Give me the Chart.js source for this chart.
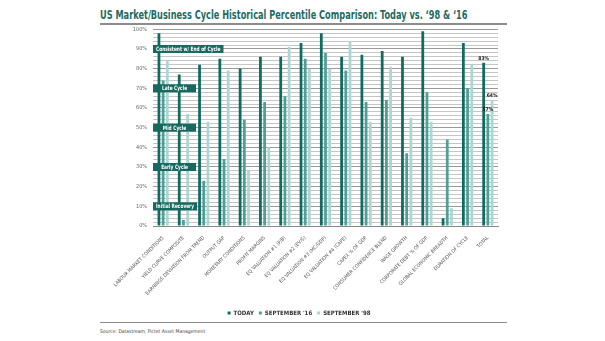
<!DOCTYPE html>
<html>
<head>
<meta charset="utf-8">
<script src="https://cdn.jsdelivr.net/npm/chart.js@4"></script>
<style>
    html, body { margin: 0; padding: 0; background: #fff; }
    body { width: 605px; height: 341px; position: relative; overflow: hidden;
           font-family: "Liberation Sans Narrow", "DejaVu Sans Condensed", "Liberation Sans", sans-serif; }
    #title { position: absolute; left: 100px; top: 8px; font-size: 12px; font-weight: bold; color: #1d6b63;
             white-space: nowrap; transform: scaleX(0.76); transform-origin: left top; }
    .rule { position: absolute; left: 100px; width: 407px; height: 2px; background: #8c8c8c; }
    #source { position: absolute; left: 100px; top: 328px; font-size: 5px; color: #444; white-space: nowrap; }
    #wrap { position: absolute; left: 100px; top: 20px; width: 410px; height: 306px; }
</style>
</head>
<body>
<div id="title">US Market/Business Cycle Historical Percentile Comparison: Today vs. ‘98 &amp; ‘16</div>
<div class="rule" style="top:23px"></div>
<div class="rule" style="top:322px; height:1px"></div>
<div id="source">Source: Datastream, Pictet Asset Management</div>
<div id="wrap"><canvas id="chart"></canvas></div>
<script>
var NARROW = '"Liberation Sans Narrow", "DejaVu Sans Condensed", "Liberation Sans", sans-serif';

var categories = ['LABOUR MARKET CONDITIONS', 'YIELD CURVE COMPOSITE', 'EARNINGS DEVIATION FROM TREND',
    'OUTPUT GAP', 'MONETARY CONDITIONS', 'PROFIT MARGINS', 'EQ VALUATION #1 (P/B)', 'EQ VALUATION #2 (EV/S)',
    'EQ VALUATION #3 (MC/GDP)', 'EQ VALUATION #4 (CAPE)', 'CAPEX % OF GDP', 'CONSUMER CONFIDENCE BLEND',
    'WAGE GROWTH', 'CORPORATE DEBT % OF GDP', 'GLOBAL ECONOMIC BREADTH', 'DURATION OF CYCLE', 'TOTAL'];
var today = [98, 77, 82, 85, 80, 86, 86, 93, 98, 86, 87, 89, 86, 99, 4, 93, 83];
var sep16 = [74, 3, 23, 34, 54, 63, 66, 85, 88, 79, 63, 64, 37, 68, 44, 70, 57];
var sep98 = [84, 57, 53, 79, 28, 40, 91, 80, 80, 94, 53, 81, 55, 53, 9, 82, 64];
var seriesNames = ['TODAY', "SEPTEMBER '16", "SEPTEMBER '98"];
var seriesColors = ['#0e6b60', '#4f9f95', '#acd6d1'];
var phaseLevels = [90, 70, 50, 30, 10];
var phaseLabels = ['Consistent w/ End of Cycle', 'Late Cycle', 'Mid Cycle', 'Early Cycle', 'Initial Recovery'];

// dark boxes marking the cycle phases on the left of the plot
var phasePlugin = {
    id: 'phases',
    afterDatasetsDraw: function (chart) {
        var ctx = chart.ctx;
        var y = chart.scales.y;
        var left = chart.chartArea.left;
        var sx = 0.8;
        ctx.save();
        ctx.font = 'bold 6px ' + NARROW;
        ctx.textAlign = 'center';
        ctx.textBaseline = 'middle';
        phaseLevels.forEach(function (lvl, n) {
            var w = Math.max(43, ctx.measureText(phaseLabels[n]).width * sx + 6);
            var py = y.getPixelForValue(lvl);
            ctx.fillStyle = '#17695f';
            ctx.fillRect(left, py - 4, w, 8);
            ctx.save();
            ctx.translate(left + w / 2, py + 0.5);
            ctx.scale(sx, 1);
            ctx.fillStyle = '#fff';
            ctx.fillText(phaseLabels[n], 0, 0);
            ctx.restore();
        });
        ctx.restore();
    }
};

// value labels over the TOTAL group
var totalPlugin = {
    id: 'totals',
    afterDatasetsDraw: function (chart) {
        var ctx = chart.ctx;
        var last = categories.length - 1;
        ctx.save();
        ctx.font = 'bold 5px ' + NARROW;
        ctx.fillStyle = '#222';
        ctx.textAlign = 'center';
        ctx.textBaseline = 'bottom';
        chart.data.datasets.forEach(function (ds, i) {
            var bar = chart.getDatasetMeta(i).data[last];
            ctx.fillText(Math.round(ds.data[last]) + '%', bar.x, bar.y - 2);
        });
        ctx.restore();
    }
};

new Chart(document.getElementById('chart'), {
    type: 'bar',
    data: {
        labels: categories,
        datasets: [today, sep16, sep98].map(function (d, n) {
            return { label: seriesNames[n], data: d, backgroundColor: seriesColors[n],
                     categoryPercentage: 0.62, barPercentage: 0.66 };
        })
    },
    options: {
        responsive: true,
        maintainAspectRatio: false,
        animation: false,
        layout: { padding: { left: 0, right: 12, top: 1, bottom: 0 } },
        plugins: {
            legend: {
                position: 'bottom',
                labels: { boxWidth: 3, boxHeight: 3, padding: 5, color: '#333',
                          font: { size: 6, weight: 'bold', family: NARROW } }
            },
            tooltip: { enabled: false }
        },
        scales: {
            x: {
                grid: { display: false },
                border: { color: '#888' },
                ticks: { autoSkip: false, minRotation: 45, maxRotation: 45, padding: 1,
                         color: '#555', font: { size: 5, family: NARROW } },
                afterFit: function (s) { s.height = 79; }
            },
            y: {
                min: 0, max: 100,
                border: { display: false },
                grid: {
                    color: function (c) { return c.tick.value % 10 === 0 ? '#999999' : '#c6c6c6'; },
                    drawTicks: false
                },
                ticks: {
                    stepSize: 2, autoSkip: false, padding: 6, color: '#666',
                    font: { size: 5.5, family: NARROW },
                    callback: function (v) { return v % 10 === 0 ? v + '%' : ''; }
                },
                afterFit: function (s) { s.width = 53; }
            }
        }
    },
    plugins: [phasePlugin, totalPlugin]
});
</script>
</body>
</html>
